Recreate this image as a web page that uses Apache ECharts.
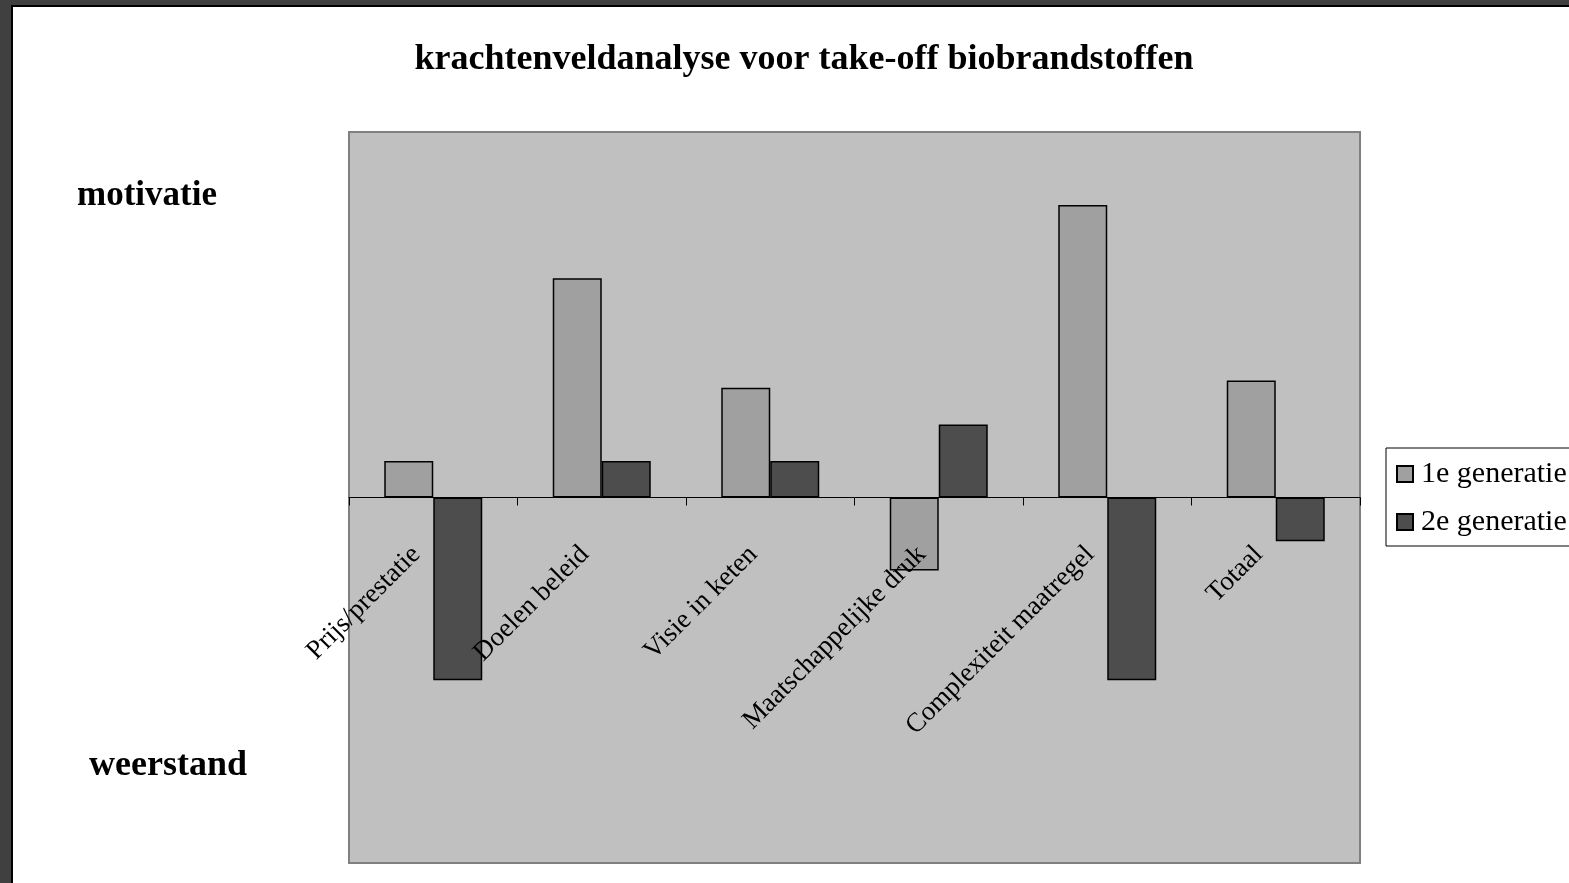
<!DOCTYPE html>
<html>
<head>
<meta charset="utf-8">
<script src="https://cdn.jsdelivr.net/npm/echarts@6/dist/echarts.min.js"></script>
<style>
    html, body { margin: 0; padding: 0; background: #404040; overflow: hidden; }
    #frame { position: absolute; left: 11px; top: 5px; width: 1570px; height: 890px; background: #fff; border-left: 2px solid #000; border-top: 2px solid #000; }
    #chart { position: absolute; left: 0; top: 0; width: 1569px; height: 883px; }
</style>
</head>
<body>
<div id="frame"></div>
<div id="chart"></div>
<script>
// categorieën
const categories = ['Prijs/prestatie', 'Doelen beleid', 'Visie in keten', 'Maatschappelijke druk', 'Complexiteit maatregel', 'Totaal']
// 1e generatie
const gen1 = [1, 6, 3, -2, 8, 3.2]
// 2e generatie
const gen2 = [-5, 1, 1, 2, -5, -1.2]

const serif = '"Liberation Serif", "Times New Roman", serif'

// grid: 349..1360 x 132..863, y van -10 tot 10 -> nullijn rond 498
const gridTop = 132
const gridHeight = 731
const yMin = -10
const yMax = 10
const zeroOffset = gridHeight * (0 - yMin) / (yMax - yMin)

const chart = echarts.init(document.getElementById('chart'))
const option = {
    backgroundColor: 'transparent',
    animation: false,
    textStyle: { fontFamily: serif, color: '#000' },
    title: [
        {
            text: 'krachtenveldanalyse voor take-off biobrandstoffen',
            left: 799,
            textAlign: 'center',
            top: 37,
            textStyle: { fontFamily: serif, fontSize: 36, fontWeight: 'bold', color: '#000' }
        },
        {
            text: 'motivatie',
            left: 72,
            top: 173,
            textStyle: { fontFamily: serif, fontSize: 35, fontWeight: 'bold', color: '#000' }
        },
        {
            text: 'weerstand',
            left: 84,
            top: 743,
            textStyle: { fontFamily: serif, fontSize: 36, fontWeight: 'bold', color: '#000' }
        }
    ],
    legend: {
        orient: 'vertical',
        left: 1386,
        top: 448,
        padding: [11, 60, 9, 10],
        itemGap: 18,
        itemWidth: 16,
        itemHeight: 16,
        borderColor: '#000',
        borderWidth: 1,
        backgroundColor: '#fff',
        textStyle: { fontFamily: serif, fontSize: 30, color: '#000', padding: [0, 0, 0, 3] },
        data: [
            { name: '1e generatie', icon: 'rect' },
            { name: '2e generatie', icon: 'rect' }
        ]
    },
    grid: {
        left: 349,
        top: gridTop,
        width: 1011,
        height: gridHeight,
        containLabel: false,
        outerBoundsMode: 'none',
        show: true,
        backgroundColor: '#c0c0c0',
        borderColor: '#808080',
        borderWidth: 2
    },
    xAxis: {
        type: 'category',
        data: categories,
        z: 5,
        position: 'bottom',
        offset: -(gridHeight - zeroOffset),
        axisLine: { onZero: false, lineStyle: { color: '#000', width: 1 } },
        axisTick: { show: true, length: 8, lineStyle: { color: '#000' } },
        axisLabel: {
            rotate: 45,
            margin: 36,
            interval: 0,
            padding: [0, 24, 0, 0],
            fontFamily: serif,
            fontSize: 27,
            color: '#000'
        }
    },
    yAxis: {
        type: 'value',
        min: yMin,
        max: yMax,
        interval: 2,
        axisLine: { show: false },
        axisTick: { show: false },
        axisLabel: { show: false },
        splitLine: { show: false }
    },
    series: [
        {
            name: '1e generatie',
            type: 'bar',
            data: gen1,
            barWidth: 49,
            barGap: '0%',
            itemStyle: { color: '#a0a0a0', borderColor: '#000', borderWidth: 1.5 }
        },
        {
            name: '2e generatie',
            type: 'bar',
            data: gen2,
            barWidth: 49,
            itemStyle: { color: '#4d4d4d', borderColor: '#000', borderWidth: 1.5 }
        }
    ]
}
chart.setOption(option)
</script>
</body>
</html>
